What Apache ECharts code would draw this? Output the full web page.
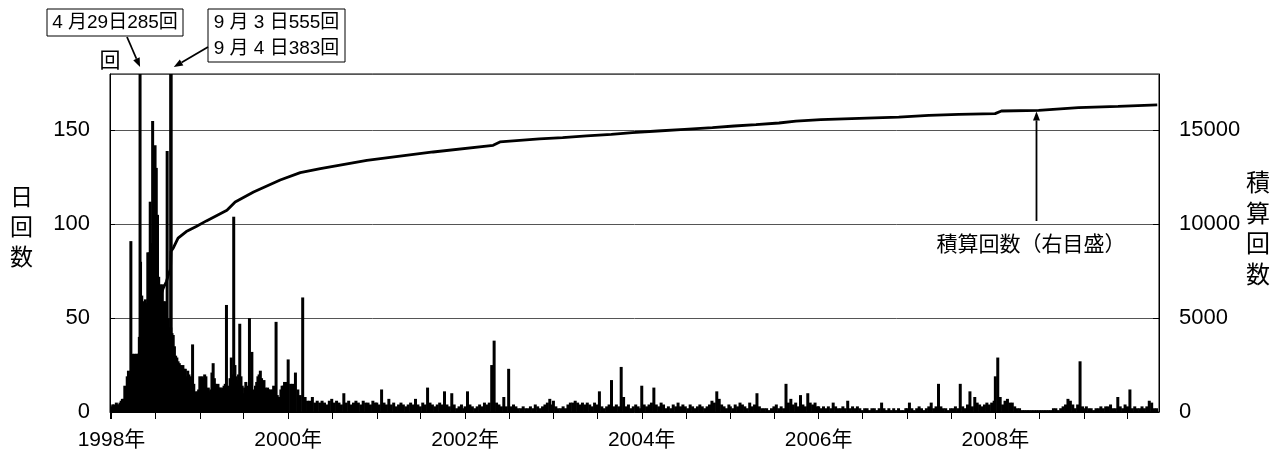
<!DOCTYPE html>
<html><head><meta charset="utf-8">
<script src="https://cdn.jsdelivr.net/npm/echarts@6/dist/echarts.min.js"></script>
<style>html,body{margin:0;padding:0;background:#fff}#c{width:1283px;height:458px}</style>
</head><body><div id="c"></div>
<script>
// Daily earthquake counts, sampled every 5 days (1998-1999) and every 10 days (2000-2009), starting Jan 1 of each year
const counts1998 = [3,4,4,3,5,4,4,5,6,7,7,14,12,19,22,20,91,31,28,31,30,31,31,40,80,62,59,55,60,58,85,85,112,90,155,120,142,130,105,72,68,66,68,59,57,59,139,50,45,45,42,41,35,30,29,27,26,25,24,25,23,23,19,22,20,18,19,36,15,11,10,11,12];
const counts1999 = [19,17,19,18,20,19,12,13,11,12,21,26,18,15,14,15,13,13,12,13,14,15,57,14,12,18,29,20,104,25,19,17,20,47,19,14,10,13,16,12,14,50,18,32,11,12,14,16,19,20,22,18,15,17,13,12,13,12,12,11,12,14,10,48,9,8,8,12,14,14,16,15,16];
const counts2000 = [28,15,15,21,12,9,61,8,6,6,8,5,6,5,6,5,4,6,7,5,6,5,4,10,5,6,4,5,6,5,4,6,5,5,4,6,5];
const counts2001 = [5,4,12,5,4,7,4,5,3,4,5,4,3,4,5,4,7,4,3,5,4,13,5,4,3,4,5,4,11,4,3,10,4,2,3,4,2];
const counts2002 = [3,11,4,3,2,3,4,3,5,4,5,25,38,5,4,3,8,3,23,3,4,3,2,2,3,2,2,3,2,4,3,2,3,4,5,7,4];
const counts2003 = [6,3,2,2,3,2,4,5,5,6,5,4,5,4,5,4,3,5,4,11,3,2,3,4,17,3,4,3,24,8,3,4,2,3,4,3,2];
const counts2004 = [14,4,3,4,5,13,4,3,5,4,2,3,2,4,3,5,3,4,3,2,4,3,2,3,4,3,2,3,4,6,5,11,7,4,3,2,4];
const counts2005 = [3,2,4,3,5,4,3,2,5,3,4,10,3,2,2,2,1,2,3,4,2,3,2,15,5,7,4,5,3,9,4,3,10,5,4,5,3];
const counts2006 = [3,2,3,2,3,2,5,3,2,2,3,2,6,2,3,2,3,2,1,2,2,1,2,2,1,2,5,2,1,2,1,2,1,2,1,1,2];
const counts2007 = [2,5,2,1,2,3,2,1,2,3,5,2,3,15,3,2,2,1,2,2,3,2,15,3,2,4,11,3,8,5,4,3,4,5,4,5,6];
const counts2008 = [19,29,8,4,6,7,5,5,3,2,2,1,1,1,1,1,1,1,1,1,1,1,1,1,2,2,1,2,3,4,7,6,4,2,4,27,3];
const counts2009 = [2,3,2,2,1,2,2,3,2,3,3,4,2,2,8,3,2,4,3,12,2,3,2,2,3,2,3,6,5,2,2];
const peakDays = [['1998-04-29',285],['1998-09-03',555],['1998-09-04',383]];

// Cumulative count (right axis)
const cumDates = ['1998-01-01','1998-02-01','1998-03-01','1998-04-01','1998-04-28','1998-04-29','1998-06-01','1998-07-01','1998-08-03','1998-08-16','1998-08-26','1998-09-02','1998-09-03','1998-09-04','1998-09-13','1998-10-03','1998-11-06','1998-12-17','1999-01-28','1999-04-23','1999-05-27','1999-08-11','1999-11-29','2000-02-20','2000-05-13','2000-11-21','2001-08-22','2002-04-27','2002-05-25','2002-11-04','2003-02-08','2003-05-18','2003-08-28','2003-11-23','2004-03-06','2004-06-26','2004-10-19','2005-01-17','2005-04-17','2005-07-21','2005-09-29','2006-01-10','2006-07-19','2006-11-28','2007-04-01','2007-08-03','2007-12-31','2008-01-26','2008-06-28','2008-12-09','2009-05-22','2009-10-31'];
const cumValues = [0,90,200,720,1700,1990,3600,5400,6600,6950,7380,7620,8175,8560,8723,9255,9610,9877,10177,10745,11188,11720,12358,12750,12960,13404,13847,14202,14380,14540,14610,14700,14790,14880,14965,15050,15140,15230,15300,15390,15490,15570,15650,15700,15800,15850,15890,16030,16060,16210,16280,16360];

const leftTicks = [0,50,100,150];
const rightTicks = [0,5000,10000,15000];

const FONT = '"Liberation Sans", Arial, "Noto Sans CJK JP", sans-serif';
const CJK = '"Noto Sans CJK JP", sans-serif';

const yearSets = [[1998,5,counts1998],[1999,5,counts1999],[2000,10,counts2000],[2001,10,counts2001],[2002,10,counts2002],[2003,10,counts2003],[2004,10,counts2004],[2005,10,counts2005],[2006,10,counts2006],[2007,10,counts2007],[2008,10,counts2008],[2009,10,counts2009]];
const barData = [];
yearSets.forEach(([y, step, arr]) => {
  arr.forEach((v, i) => { barData.push([new Date(y, 0, 1 + i * step).getTime(), v]); });
});
peakDays.forEach(([d, v]) => { const p = d.split('-').map(Number); barData.push([new Date(p[0], p[1]-1, p[2]).getTime(), v]); });
barData.sort((a, b) => a[0] - b[0]);
const lineData = cumDates.map((d, i) => { const p = d.split('-').map(Number); return [new Date(p[0], p[1]-1, p[2]).getTime(), cumValues[i]]; });

const chart = echarts.init(document.getElementById('c'));
const DAY = 86400000;
chart.setOption({
  animation: false,
  backgroundColor: '#fff',
  grid: { left: 110, right: 124, top: 74, bottom: 46, show: true, borderColor: '#000', borderWidth: 1, backgroundColor: 'transparent' },
  xAxis: {
    type: 'time',
    min: new Date(1998, 0, 1).getTime(),
    max: new Date(2009, 10, 1).getTime(),
    minInterval: 180 * DAY, maxInterval: 184 * DAY, splitNumber: 24,
    axisLine: { show: true, lineStyle: { color: '#000', width: 1 } },
    axisTick: { show: true, length: 7, lineStyle: { color: '#000', width: 1 } },
    splitLine: { show: false },
    axisLabel: {
      color: '#000', fontSize: 21, fontFamily: FONT, margin: 18, hideOverlap: false,
      showMinLabel: true, showMaxLabel: false,
      formatter: (v) => { const d = new Date(v); return (d.getMonth() === 0 && d.getDate() === 1 && d.getFullYear() % 2 === 0) ? d.getFullYear() + '年' : ''; }
    }
  },
  yAxis: [
    {
      type: 'value', min: 0, max: 180, interval: 50, position: 'left',
      name: '回', nameLocation: 'end', nameGap: 4,
      nameTextStyle: { color: '#000', fontSize: 21, fontFamily: CJK, align: 'center', verticalAlign: 'bottom' },
      axisLine: { show: true, lineStyle: { color: '#000' } },
      axisTick: { show: true, inside: true, length: 5, lineStyle: { color: '#000' } },
      axisLabel: { color: '#000', fontSize: 22, fontFamily: FONT, margin: 20, showMaxLabel: false,
        formatter: (v) => leftTicks.includes(v) ? String(v) : '' },
      splitLine: { show: true, lineStyle: { color: '#555', width: 1 } }
    },
    {
      type: 'value', min: 0, max: 18000, interval: 5000, position: 'right',
      axisLine: { show: true, lineStyle: { color: '#000' } },
      axisTick: { show: true, inside: true, length: 6, lineStyle: { color: '#000' } },
      axisLabel: { color: '#000', fontSize: 22, fontFamily: FONT, margin: 20, showMaxLabel: false,
        formatter: (v) => rightTicks.includes(v) ? String(v) : '' },
      splitLine: { show: false }
    }
  ],
  series: [
    { type: 'bar', name: '日回数', data: barData, barWidth: 3, itemStyle: { color: '#000' }, large: false, clip: true, yAxisIndex: 0 },
    { type: 'line', name: '積算回数', data: lineData, yAxisIndex: 1, showSymbol: false, symbol: 'none', lineStyle: { color: '#000', width: 2.8 }, z: 5 }
  ]
});

function arrow(x1, y1, x2, y2) {
  const dx = x2 - x1, dy = y2 - y1, L = Math.hypot(dx, dy), ux = dx / L, uy = dy / L;
  const hl = 9, hw = 3.5, bx = x2 - ux * hl, by = y2 - uy * hl;
  return [
    { type: 'line', shape: { x1: x1, y1: y1, x2: bx, y2: by }, style: { stroke: '#000', lineWidth: 1.8 } },
    { type: 'polygon', shape: { points: [[x2, y2], [bx - uy * hw, by + ux * hw], [bx + uy * hw, by - ux * hw]] }, style: { fill: '#000' } }
  ];
}
function px(dateStr, v, yi) {
  const p = dateStr.split('-').map(Number);
  return chart.convertToPixel({ xAxisIndex: 0, yAxisIndex: yi }, [new Date(p[0], p[1]-1, p[2]).getTime(), v]);
}
const p1 = px('1998-04-29', 180, 0);
const p2 = px('1998-09-03', 180, 0);
const p3 = px('2008-06-19', 16060, 1);
const elems = [];
elems.push({ type: 'rect', shape: { x: 47, y: 9, width: 136, height: 27 }, style: { fill: '#fff', stroke: '#000', lineWidth: 1 } });
elems.push({ type: 'text', style: { text: '4 月29日285回', x: 115, y: 23, align: 'center', verticalAlign: 'middle', fontSize: 19, fontFamily: FONT, fill: '#000' } });
elems.push({ type: 'rect', shape: { x: 208, y: 9, width: 137, height: 53 }, style: { fill: '#fff', stroke: '#000', lineWidth: 1 } });
elems.push({ type: 'text', style: { text: '9 月 3 日555回', x: 276.5, y: 23, align: 'center', verticalAlign: 'middle', fontSize: 19, fontFamily: FONT, fill: '#000' } });
elems.push({ type: 'text', style: { text: '9 月 4 日383回', x: 276.5, y: 49, align: 'center', verticalAlign: 'middle', fontSize: 19, fontFamily: FONT, fill: '#000' } });
elems.push(...arrow(127, 37, p1[0], p1[1] - 7));
elems.push(...arrow(208, 47, p2[0] + 3, p2[1] - 7));
elems.push(...arrow(p3[0], 221, p3[0], p3[1] + 1));
elems.push({ type: 'text', style: { text: '積算回数（右目盛）', x: 1031, y: 243, align: 'center', verticalAlign: 'middle', fontSize: 21, fontFamily: CJK, fill: '#000' } });
elems.push({ type: 'text', style: { text: '日\n回\n数', x: 21.5, y: 226, align: 'center', verticalAlign: 'middle', fontSize: 23, lineHeight: 30, fontFamily: CJK, fill: '#000' } });
elems.push({ type: 'text', style: { text: '積\n算\n回\n数', x: 1258, y: 228, align: 'center', verticalAlign: 'middle', fontSize: 24, lineHeight: 30.5, fontFamily: CJK, fill: '#000' } });
chart.setOption({ graphic: { elements: elems } });
</script>
</body></html>
